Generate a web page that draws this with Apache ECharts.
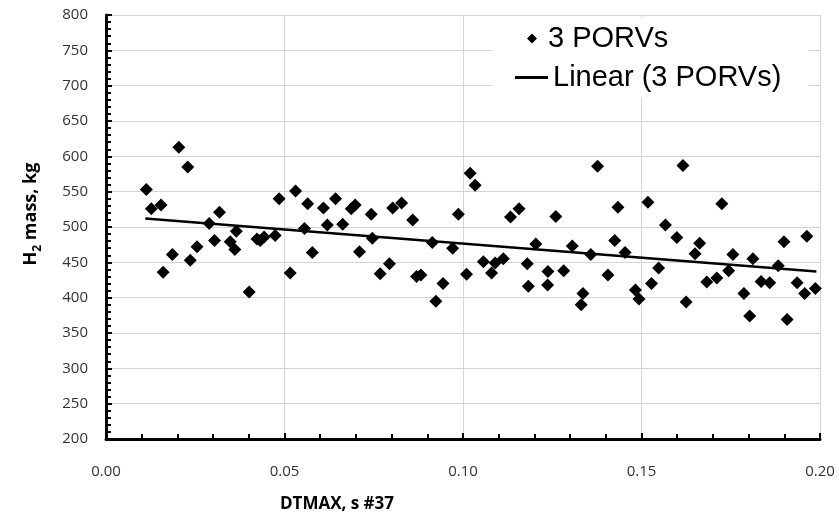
<!DOCTYPE html>
<html>
<head>
<meta charset="utf-8">
<script src="https://cdn.jsdelivr.net/npm/echarts@6/dist/echarts.min.js"></script>
<style>
  html, body { margin: 0; padding: 0; background: #fff; }
  #chart { width: 839px; height: 513px; }
</style>
</head>
<body>
<div id="chart"></div>
<script>
// DTMAX samples (s) and H2 mass (kg)
const dtmax = [
  0.0113, 0.0127, 0.0154, 0.0160, 0.0186, 0.0204, 0.0229, 0.0236, 0.0255, 0.0289,
  0.0304, 0.0318, 0.0348, 0.0361, 0.0365, 0.0401, 0.0423, 0.0432, 0.0443, 0.0474,
  0.0485, 0.0516, 0.0531, 0.0556, 0.0565, 0.0578, 0.0609, 0.0620, 0.0643, 0.0663,
  0.0687, 0.0698, 0.0710, 0.0743, 0.0746, 0.0768, 0.0794, 0.0803, 0.0828, 0.0859,
  0.0870, 0.0882, 0.0914, 0.0924, 0.0944, 0.0971, 0.0987, 0.1010, 0.1020, 0.1034,
  0.1057, 0.1080, 0.1090, 0.1113, 0.1133, 0.1157, 0.1180, 0.1183, 0.1204, 0.1237,
  0.1238, 0.1260, 0.1282, 0.1306, 0.1331, 0.1336, 0.1358, 0.1377, 0.1406, 0.1425,
  0.1434, 0.1454, 0.1483, 0.1493, 0.1518, 0.1528, 0.1548, 0.1567, 0.1599, 0.1616,
  0.1625, 0.1650, 0.1663, 0.1683, 0.1711, 0.1725, 0.1744, 0.1756, 0.1787, 0.1803,
  0.1812, 0.1835, 0.1859, 0.1883, 0.1899, 0.1908, 0.1936, 0.1957, 0.1963, 0.1987
];
const h2Mass = [
  553, 526, 531, 436, 461, 613, 585, 453, 472, 505,
  481, 521, 479, 468, 494, 408, 483, 481, 486, 488,
  540, 435, 551, 498, 533, 464, 527, 503, 540, 504,
  526, 531, 465, 518, 484, 434, 448, 527, 534, 510,
  430, 432, 478, 395, 420, 470, 518, 433, 576, 559,
  451, 435, 449, 455, 514, 526, 448, 416, 476, 418,
  437, 515, 438, 473, 390, 406, 461, 586, 432, 481,
  528, 464, 411, 398, 535, 420, 442, 503, 485, 587,
  394, 462, 477, 422, 428, 533, 438, 461, 406, 374,
  455, 423, 421, 445, 479, 369, 421, 406, 487, 413
];

// linear trend line end points
const trendX = [0.011, 0.199];
const trendY = [512, 437];

const seriesName = '3 PORVs';
const trendName = 'Linear (3 PORVs)';

const labelFont = 'Open Sans';
const legendFont = 'Liberation Sans';

const chart = echarts.init(document.getElementById('chart'));

chart.setOption({
  animation: false,
  backgroundColor: '#fff',
  grid: { left: 106, right: 19, top: 15, bottom: 74, containLabel: false, outerBoundsMode: 'none' },
  // white box behind the legend, hides the gridlines there
  graphic: [{
    type: 'rect',
    z: 3,
    shape: { x: 492, y: 17, width: 316, height: 80 },
    style: { fill: '#fff' }
  }],
  legend: [
    {
      data: [seriesName],
      left: 527, top: 24,
      padding: 0,
      itemWidth: 10, itemHeight: 10,
      textStyle: { fontFamily: legendFont, fontSize: 29, color: '#000', padding: [0, 0, 0, 6] }
    },
    {
      data: [{ name: trendName, icon: 'rect' }],
      left: 515, top: 63,
      padding: 0,
      itemWidth: 33, itemHeight: 3,
      itemStyle: { color: '#000' },
      textStyle: { fontFamily: legendFont, fontSize: 29, color: '#000' }
    }
  ],
  xAxis: {
    type: 'value',
    min: 0, max: 0.2, interval: 0.05,
    name: 'DTMAX, s #37',
    nameLocation: 'middle',
    nameGap: 57,
    nameTextStyle: {
      fontFamily: labelFont, fontWeight: 'bold', fontSize: 17, color: '#000',
      padding: [0, 252, 0, 0]
    },
    axisLine: { show: true, onZero: false, lineStyle: { color: '#000', width: 3 } },
    axisTick: { show: true, inside: true, length: 6, lineStyle: { color: '#000', width: 2 } },
    minorTick: { show: true, splitNumber: 5, length: 5, lineStyle: { color: '#000', width: 2 } },
    axisLabel: {
      margin: 25,
      fontFamily: labelFont, fontSize: 15, color: '#333',
      formatter: v => v.toFixed(2)
    },
    splitLine: { show: true, lineStyle: { color: '#d4d4d4', width: 1 } }
  },
  yAxis: {
    type: 'value',
    min: 200, max: 800, interval: 50,
    name: '{t|H}{s|2}{t| mass, kg}',
    nameLocation: 'middle',
    nameGap: 62,
    nameTextStyle: {
      padding: [0, 0, 0, 26],
      rich: {
        t: { fontFamily: labelFont, fontWeight: 'bold', fontSize: 18, color: '#000', lineHeight: 26 },
        s: { fontFamily: labelFont, fontWeight: 'bold', fontSize: 12, color: '#000', lineHeight: 26, verticalAlign: 'bottom' }
      }
    },
    axisLine: { show: true, lineStyle: { color: '#000', width: 3 } },
    axisTick: { show: true, inside: true, length: 6, lineStyle: { color: '#000', width: 2 } },
    minorTick: { show: true, splitNumber: 5, length: 5, lineStyle: { color: '#000', width: 2 } },
    axisLabel: { margin: 18, fontFamily: labelFont, fontSize: 15, color: '#333' },
    splitLine: { show: true, lineStyle: { color: '#d4d4d4', width: 1 } }
  },
  series: [
    {
      name: seriesName,
      type: 'scatter',
      symbol: 'diamond',
      symbolSize: 13,
      itemStyle: { color: '#000', opacity: 1 },
      data: dtmax.map((x, i) => [x, h2Mass[i]])
    },
    {
      name: trendName,
      type: 'line',
      symbol: 'none',
      lineStyle: { color: '#000', width: 2.5 },
      itemStyle: { color: '#000' },
      data: trendX.map((x, i) => [x, trendY[i]])
    }
  ]
});
</script>
</body>
</html>
